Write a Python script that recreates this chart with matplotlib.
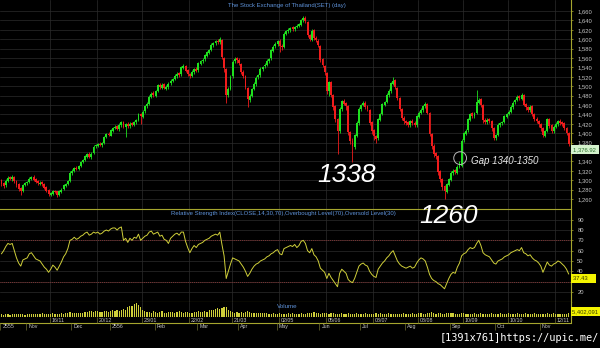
# -*- coding: utf-8 -*-
#
# SET index (day) candles + RSI(14) + volume, dark terminal style
#

import matplotlib
matplotlib.use("Agg")
import matplotlib.pyplot as plt
import matplotlib.transforms as mtransforms
import numpy as np
from matplotlib.ticker import FuncFormatter

#======================================================================
### data (one row = 10 trading days)
#======================================================================
open_ = [
    1300, 1293, 1289, 1299, 1306, 1302, 1306, 1299, 1291, 1283,
    1277, 1290, 1293, 1296, 1302, 1307, 1302, 1298, 1292, 1296,
    1291, 1285, 1279, 1269, 1271, 1278, 1276, 1269, 1275, 1281,
    1288, 1292, 1299, 1315, 1319, 1327, 1323, 1331, 1339, 1343,
    1350, 1356, 1349, 1357, 1372, 1373, 1378, 1374, 1380, 1391,
    1399, 1395, 1405, 1411, 1415, 1408, 1417, 1424, 1413, 1420,
    1415, 1421, 1417, 1423, 1429, 1441, 1435, 1447, 1457, 1463,
    1477, 1485, 1480, 1490, 1503, 1497, 1504, 1495, 1498, 1506,
    1511, 1516, 1521, 1528, 1525, 1539, 1544, 1534, 1527, 1521,
    1530, 1537, 1534, 1548, 1554, 1557, 1565, 1571, 1577, 1587,
    1591, 1597, 1593, 1598, 1560, 1536, 1481, 1495, 1521, 1553,
    1559, 1556, 1548, 1531, 1521, 1497, 1471, 1479, 1495, 1504,
    1519, 1523, 1536, 1542, 1545, 1553, 1559, 1575, 1585, 1589,
    1597, 1586, 1584, 1611, 1618, 1619, 1625, 1621, 1627, 1628,
    1631, 1640, 1646, 1637, 1609, 1599, 1619, 1603, 1597, 1586,
    1557, 1544, 1529, 1489, 1509, 1481, 1457, 1431, 1404, 1451,
    1469, 1464, 1457, 1403, 1384, 1371, 1395, 1421, 1451, 1461,
    1465, 1457, 1450, 1423, 1406, 1395, 1389, 1429, 1441, 1461,
    1467, 1481, 1489, 1505, 1513, 1497, 1475, 1451, 1433, 1426,
    1423, 1417, 1427, 1422, 1417, 1435, 1443, 1449, 1457, 1463,
    1443, 1399, 1373, 1357, 1351, 1319, 1303, 1287, 1275, 1290,
    1301, 1315, 1321, 1316, 1328, 1330, 1385, 1399, 1406, 1429,
    1442, 1436, 1444, 1465, 1472, 1461, 1429, 1423, 1430, 1427,
    1411, 1389, 1397, 1417, 1422, 1424, 1435, 1441, 1445, 1455,
    1466, 1471, 1479, 1473, 1482, 1462, 1456, 1449, 1457, 1441,
    1431, 1425, 1420, 1411, 1395, 1405, 1431, 1417, 1404, 1413,
    1419, 1427, 1423, 1421, 1412, 1401,
]
high = [
    1303, 1296, 1302, 1309, 1309, 1310, 1308, 1301, 1293, 1285,
    1292, 1297, 1299, 1306, 1309, 1310, 1304, 1300, 1298, 1298,
    1293, 1287, 1281, 1275, 1280, 1280, 1278, 1279, 1283, 1292,
    1295, 1301, 1319, 1323, 1329, 1330, 1333, 1341, 1345, 1354,
    1358, 1359, 1359, 1374, 1377, 1380, 1381, 1382, 1395, 1401,
    1402, 1409, 1413, 1417, 1418, 1421, 1426, 1427, 1422, 1423,
    1423, 1424, 1427, 1431, 1443, 1444, 1449, 1461, 1466, 1481,
    1487, 1489, 1492, 1505, 1507, 1506, 1507, 1502, 1508, 1515,
    1518, 1525, 1530, 1531, 1543, 1547, 1546, 1536, 1529, 1534,
    1539, 1540, 1552, 1556, 1559, 1569, 1575, 1579, 1591, 1595,
    1599, 1600, 1604, 1601, 1562, 1538, 1498, 1523, 1555, 1562,
    1562, 1559, 1550, 1534, 1523, 1499, 1484, 1497, 1508, 1521,
    1527, 1540, 1544, 1549, 1557, 1561, 1579, 1587, 1593, 1599,
    1600, 1589, 1615, 1620, 1623, 1627, 1628, 1629, 1632, 1635,
    1644, 1650, 1649, 1639, 1612, 1621, 1621, 1606, 1600, 1588,
    1560, 1546, 1531, 1512, 1511, 1483, 1459, 1433, 1456, 1471,
    1472, 1467, 1459, 1405, 1389, 1399, 1425, 1455, 1463, 1468,
    1468, 1460, 1452, 1425, 1408, 1397, 1433, 1443, 1465, 1469,
    1485, 1493, 1509, 1520, 1515, 1499, 1477, 1453, 1436, 1429,
    1426, 1429, 1430, 1425, 1439, 1447, 1453, 1461, 1466, 1465,
    1445, 1401, 1376, 1360, 1353, 1321, 1305, 1289, 1294, 1305,
    1319, 1323, 1324, 1332, 1341, 1387, 1403, 1408, 1433, 1444,
    1445, 1446, 1492, 1475, 1475, 1463, 1432, 1432, 1433, 1429,
    1413, 1399, 1421, 1424, 1426, 1439, 1443, 1449, 1459, 1468,
    1473, 1481, 1482, 1486, 1484, 1464, 1458, 1459, 1459, 1443,
    1434, 1428, 1422, 1413, 1407, 1433, 1433, 1419, 1417, 1423,
    1429, 1430, 1426, 1423, 1414, 1403,
]
low = [
    1287, 1284, 1286, 1297, 1300, 1299, 1295, 1286, 1278, 1268,
    1274, 1287, 1290, 1294, 1300, 1298, 1294, 1290, 1289, 1288,
    1281, 1274, 1266, 1266, 1269, 1272, 1265, 1267, 1273, 1279,
    1286, 1290, 1297, 1312, 1317, 1321, 1321, 1329, 1336, 1341,
    1348, 1347, 1346, 1355, 1369, 1370, 1372, 1371, 1378, 1389,
    1393, 1393, 1403, 1408, 1406, 1405, 1414, 1410, 1392, 1412,
    1412, 1415, 1415, 1420, 1427, 1420, 1433, 1444, 1454, 1460,
    1474, 1477, 1477, 1487, 1495, 1494, 1493, 1491, 1495, 1503,
    1508, 1513, 1518, 1520, 1522, 1536, 1530, 1522, 1518, 1519,
    1527, 1530, 1531, 1545, 1550, 1554, 1562, 1568, 1574, 1584,
    1588, 1590, 1590, 1558, 1530, 1465, 1476, 1492, 1518, 1549,
    1550, 1545, 1526, 1517, 1494, 1456, 1466, 1476, 1492, 1501,
    1516, 1520, 1533, 1538, 1542, 1550, 1556, 1572, 1582, 1586,
    1573, 1578, 1582, 1608, 1614, 1616, 1618, 1618, 1623, 1625,
    1628, 1637, 1634, 1604, 1596, 1596, 1598, 1594, 1583, 1552,
    1540, 1524, 1484, 1480, 1476, 1450, 1424, 1355, 1400, 1448,
    1459, 1450, 1396, 1376, 1338, 1366, 1391, 1418, 1447, 1457,
    1452, 1447, 1418, 1399, 1386, 1380, 1386, 1426, 1438, 1458,
    1464, 1478, 1486, 1502, 1494, 1470, 1448, 1428, 1420, 1417,
    1413, 1414, 1417, 1413, 1414, 1432, 1440, 1446, 1454, 1440,
    1394, 1366, 1350, 1346, 1312, 1296, 1279, 1260, 1272, 1287,
    1298, 1312, 1313, 1313, 1325, 1328, 1382, 1396, 1403, 1426,
    1433, 1433, 1441, 1462, 1456, 1422, 1419, 1419, 1421, 1405,
    1385, 1385, 1394, 1413, 1418, 1421, 1432, 1438, 1442, 1452,
    1463, 1468, 1470, 1470, 1457, 1450, 1446, 1446, 1436, 1425,
    1421, 1414, 1405, 1391, 1391, 1402, 1411, 1401, 1401, 1410,
    1416, 1418, 1416, 1407, 1396, 1372,
]
close = [
    1291, 1288, 1299, 1305, 1303, 1306, 1298, 1290, 1282, 1276,
    1289, 1294, 1296, 1303, 1306, 1301, 1297, 1293, 1295, 1291,
    1284, 1278, 1270, 1272, 1277, 1275, 1269, 1276, 1280, 1289,
    1292, 1298, 1316, 1320, 1326, 1324, 1330, 1338, 1342, 1351,
    1355, 1350, 1356, 1371, 1374, 1377, 1375, 1379, 1392, 1398,
    1396, 1406, 1410, 1414, 1409, 1418, 1423, 1414, 1419, 1416,
    1420, 1418, 1424, 1428, 1440, 1436, 1446, 1458, 1462, 1478,
    1484, 1481, 1489, 1502, 1498, 1503, 1496, 1499, 1505, 1512,
    1515, 1522, 1527, 1524, 1540, 1543, 1533, 1526, 1522, 1531,
    1536, 1533, 1549, 1553, 1556, 1566, 1572, 1576, 1588, 1592,
    1596, 1594, 1600, 1562, 1538, 1482, 1494, 1520, 1552, 1558,
    1555, 1549, 1530, 1522, 1498, 1472, 1480, 1494, 1505, 1518,
    1524, 1537, 1541, 1546, 1554, 1558, 1576, 1584, 1590, 1596,
    1585, 1583, 1612, 1617, 1620, 1624, 1622, 1626, 1629, 1632,
    1641, 1645, 1638, 1608, 1600, 1618, 1602, 1598, 1587, 1556,
    1545, 1530, 1490, 1508, 1482, 1456, 1430, 1405, 1452, 1468,
    1463, 1458, 1402, 1383, 1372, 1396, 1422, 1452, 1460, 1464,
    1456, 1451, 1422, 1405, 1394, 1388, 1430, 1440, 1462, 1466,
    1482, 1490, 1506, 1512, 1498, 1474, 1452, 1432, 1425, 1422,
    1418, 1426, 1421, 1418, 1436, 1444, 1450, 1458, 1462, 1444,
    1398, 1372, 1356, 1352, 1318, 1302, 1286, 1276, 1291, 1302,
    1316, 1320, 1317, 1329, 1338, 1384, 1400, 1405, 1430, 1441,
    1437, 1443, 1466, 1471, 1460, 1428, 1424, 1429, 1426, 1410,
    1390, 1396, 1418, 1421, 1423, 1436, 1440, 1446, 1456, 1465,
    1470, 1478, 1474, 1481, 1461, 1455, 1450, 1456, 1440, 1430,
    1426, 1419, 1410, 1396, 1404, 1430, 1416, 1405, 1414, 1420,
    1426, 1422, 1420, 1411, 1400, 1376.92,
]
rsi = [
    57, 60, 64, 67, 66, 67, 60, 53, 48, 45,
    51, 52, 53, 57, 58, 55, 52, 51, 50, 47,
    44, 42, 39, 42, 46, 44, 41, 45, 49, 54,
    57, 62, 70, 71, 73, 71, 72, 74, 75, 77,
    78, 75, 76, 78, 77, 78, 76, 77, 79, 80,
    79, 81, 82, 82, 80, 82, 83, 70, 72, 68,
    72, 70, 73, 72, 76, 70, 72, 74, 75, 78,
    79, 76, 77, 78, 74, 75, 71, 70, 67, 72,
    74, 76, 77, 75, 78, 78, 69, 63, 58, 62,
    65, 63, 66, 67, 68, 70, 71, 72, 74, 75,
    76, 75, 78, 66, 55, 33, 40, 47, 53, 52,
    51, 50, 47, 44, 40, 35, 38, 42, 45, 47,
    48, 50, 51, 52, 54, 55, 57, 58, 60, 61,
    57, 56, 62, 63, 64, 65, 64, 66, 63, 65,
    69, 70, 67, 60, 58, 62, 56, 54, 50, 43,
    41, 39, 33, 38, 34, 31, 28, 25, 38, 42,
    40, 38, 32, 30, 29, 33, 39, 45, 47, 48,
    46, 45, 40, 37, 35, 34, 42, 45, 48, 50,
    53, 55, 58, 60, 55, 50, 47, 45, 44, 43,
    44, 45, 43, 44, 48, 51, 53, 52, 50, 44,
    37, 33, 31, 30, 28, 27, 25, 23, 28, 33,
    37, 39, 38, 44, 48, 55, 57, 58, 61, 63,
    62, 63, 67, 70, 65, 58, 56, 55, 54, 51,
    48, 47, 50, 51, 52, 54, 55, 56, 58, 59,
    60, 61, 60, 63, 58, 57, 55, 56, 53, 51,
    50, 48, 45, 39, 44, 49, 46, 45, 47, 48,
    50, 49, 47, 45, 42, 37.43,
]
volume = [
    28, 24, 30, 26, 22, 27, 31, 25, 29, 33,
    27, 24, 26, 30, 28, 25, 30, 27, 32, 35,
    29, 31, 26, 34, 38, 30, 28, 33, 36, 31,
    40, 42, 45, 38, 36, 41, 39, 44, 37, 52,
    48, 55, 60, 50, 58, 62, 54, 49, 57, 63,
    51, 60, 66, 58, 72, 64, 70, 78, 68, 95,
    112, 104, 128, 135, 118, 100, 72, 58, 48, 52,
    44, 56, 50, 41, 47, 55, 43, 39, 46, 52,
    45, 40, 50, 57, 48, 42, 53, 46, 38, 44,
    51, 47, 55, 49, 54, 60, 52, 66, 72, 70,
    78, 84, 80, 90, 96, 102, 70, 56, 48, 44,
    50, 42, 46, 38, 52, 58, 45, 40, 36, 42,
    39, 35, 44, 38, 41, 34, 30, 36, 28, 32,
    38, 29, 33, 27, 35, 31, 40, 30, 26, 34,
    37, 29, 32, 36, 42, 38, 45, 40, 36, 33,
    39, 44, 35, 30, 41, 37, 32, 28, 34, 38,
    31, 29, 36, 33, 27, 30, 35, 32, 28, 34,
    39, 31, 26, 33, 30, 37, 29, 35, 32, 28,
    31, 36, 30, 27, 33, 29, 34, 32, 36, 30,
    28, 34, 38, 31, 29, 35, 40, 33, 30, 37,
    42, 46, 38, 34, 41, 36, 32, 30, 35, 39,
    44, 37, 33, 29, 31, 36, 40, 34, 30, 28,
    33, 37, 31, 29, 35, 32, 27, 30, 34, 38,
    31, 28, 33, 36, 30, 26, 32, 35, 29, 31,
    34, 37, 30, 28, 33, 36, 29, 27, 32, 35,
    31, 28, 34, 30, 33, 36, 29, 31, 35, 28,
    32, 30, 34, 29, 33, 36,
]

# date axis (bar index where each label starts)
day_ticks = [23, 45, 66, 88, 108, 130, 152, 174, 195, 216, 237, 259]
day_labels = ["16/11", "20/12", "23/01", "22/02", "21/03", "02/05",
              "05/06", "08/07", "08/08", "10/09", "10/10", "12/11"]
month_ticks = [0, 12, 33, 51, 72, 92, 111, 129, 149, 168, 189, 210, 231, 252]
month_labels = ["2555", "Nov", "Dec", "2556", "Feb", "Mar", "Apr", "May",
                "Jun", "Jul", "Aug", "Sep", "Oct", "Nov"]

price_ticks = list(range(1260, 1661, 20))
rsi_ticks = [20, 30, 40, 50, 60, 70, 80, 90]
last_volume_label = "5,402,091"

#======================================================================
### style
#======================================================================
BG = "black"
OLIVE = "#a6a62e"
GRID = "#2c2c2c"
UP = "#1fe01f"
DOWN = "#f01c1c"
LBL = "#c4c4c4"
BLUE = "#5f93da"
YEL = "#cfcf3a"

plt.rcParams["font.family"] = ["Liberation Sans", "DejaVu Sans"]

W, H = 600, 348
AX_RIGHT = 571


def fx(p):
    return p / W


def fy(p):
    return 1 - p / H


fig = plt.figure(figsize=(W / 100, H / 100), dpi=100, facecolor=BG)


def panel(top, bottom):
    a = fig.add_axes([0, fy(bottom), AX_RIGHT / W, (bottom - top) / H])
    a.set_facecolor(BG)
    for s in a.spines.values():
        s.set_visible(False)
    return a


ax = panel(0, 209)
ax_rsi = panel(209, 302)
ax_vol = panel(302, 317)
ax_dt = panel(317, 331)

n = len(close)
x = np.arange(n)
xlim = (-0.7, n + 0.1)
grid_x = np.array(day_ticks) - 0.5

for a in (ax, ax_rsi, ax_vol, ax_dt):
    a.set_xlim(*xlim)
    a.set_xticks(grid_x)
    a.tick_params(axis="x", length=0, labelbottom=False)
    a.spines["right"].set_visible(True)
    a.spines["right"].set_color(OLIVE)
    a.spines["right"].set_linewidth(0.8)


# the last-value marker box sits just under its value and hides the label there
def covered_fmt(last, span, fmt):
    def f(v, p):
        if last - span < v < last:
            return ""
        return fmt.format(v)
    return FuncFormatter(f)


def last_box(a, value, label, fc, tc, drop):
    tr = mtransforms.offset_copy(a.get_yaxis_transform(), fig=fig, y=-drop, units="dots")
    a.text(1.003, value, label, transform=tr, ha="left", va="top", fontsize=4.2,
           color=tc, clip_on=False, zorder=6,
           bbox=dict(boxstyle="square,pad=0.3", fc=fc, ec="none"))


#======================================================================
### price panel
#======================================================================
o = np.array(open_)
c = np.array(close)
col = np.where(c >= o, UP, DOWN)
ax.vlines(x, low, high, colors=col, lw=0.6, zorder=3)
ax.bar(x, np.maximum(np.abs(c - o), 1.3), bottom=np.minimum(o, c),
       width=0.9, color=col, linewidth=0, zorder=4)

ax.set_ylim(1238.7, 1683.4)
ax.yaxis.tick_right()
ax.set_yticks(price_ticks)
ax.yaxis.set_major_formatter(covered_fmt(close[-1], 20, "{:,.0f}"))
ax.tick_params(axis="y", labelsize=4.2, labelcolor=LBL, color=OLIVE,
               length=1.5, width=0.5, pad=3)
ax.grid(True, color=GRID, lw=0.5)
ax.set_axisbelow(True)

last_box(ax, close[-1], f"{close[-1]:,.2f} ", "#d4f2cc", "#2b6e2b", 3)

fig.text(fx(287), fy(6), "The Stock Exchange of Thailand(SET) (day)",
         ha="center", va="center", fontsize=4.3, color=BLUE)

# hand annotations
fig.text(fx(347), fy(175), "1338", ha="center", va="center",
         fontsize=19, style="italic", color="white")
fig.text(fx(449), fy(216), "1260", ha="center", va="center",
         fontsize=19, style="italic", color="white", zorder=10)
fig.text(fx(471), fy(161.5), "Gap 1340-1350", ha="left", va="center",
         fontsize=7, style="italic", color="#e8e8e8")
ax.scatter([214.3], [1347], s=85, facecolors="none", edgecolors="#b8b8b8",
           linewidths=0.7, zorder=7)

#======================================================================
### RSI panel
#======================================================================
ax_rsi.plot(x, rsi, color=YEL, lw=0.7, zorder=4)
ax_rsi.set_ylim(10.2, 100.4)
ax_rsi.yaxis.tick_right()
ax_rsi.set_yticks(rsi_ticks)
ax_rsi.yaxis.set_major_formatter(covered_fmt(rsi[-1], 10, "{:.0f}"))
ax_rsi.tick_params(axis="y", labelsize=4.2, labelcolor=LBL, color=OLIVE,
                   length=1.5, width=0.5, pad=3)
ax_rsi.grid(True, color=GRID, lw=0.5)
ax_rsi.set_axisbelow(True)
for lvl in (30, 70):
    ax_rsi.axhline(lvl, color="#9c3a3a", lw=0.6, ls=(0, (1, 1.3)), zorder=3)
for side in ("top", "bottom"):
    ax_rsi.spines[side].set_visible(True)
    ax_rsi.spines[side].set_color(OLIVE)
    ax_rsi.spines[side].set_linewidth(0.8)

last_box(ax_rsi, rsi[-1], f"{rsi[-1]:.2f}    ", "#f4f400", "#3a3a00", 2)

fig.text(fx(171), fy(214),
         "Relative Strength Index(CLOSE,14,30,70),Overbought Level(70),Oversold Level(30)",
         ha="left", va="center", fontsize=4.3, color=BLUE)

#======================================================================
### volume panel
#======================================================================
ax_vol.bar(x, volume, width=0.55, color=YEL, linewidth=0)
ax_vol.set_ylim(0, 148)
ax_vol.set_yticks([])
ax_vol.grid(True, axis="x", color=GRID, lw=0.5)
ax_vol.set_axisbelow(True)
ax_vol.spines["bottom"].set_visible(True)
ax_vol.spines["bottom"].set_color(OLIVE)
ax_vol.spines["bottom"].set_linewidth(0.8)
fig.text(fx(287), fy(307), "Volume", ha="center", va="center",
         fontsize=4.5, color=BLUE)
fig.text(fx(572.5), fy(311.5), last_volume_label + " ", ha="left", va="center",
         fontsize=4.2, color="#3a3a00",
         bbox=dict(boxstyle="square,pad=0.3", fc="#f4f400", ec="none"))

#======================================================================
### date rows
#======================================================================
ax_dt.set_ylim(0, 14)
ax_dt.set_yticks([])
ax_dt.spines["right"].set_bounds(8, 14)
ax_dt.axhline(8, color=OLIVE, lw=0.8)
ax_dt.vlines(grid_x, 8, 14, color="#6e6e30", lw=0.5)
for t, s in zip(day_ticks, day_labels):
    ax_dt.text(t + 0.3, 11, s, ha="left", va="center", fontsize=3.8, color=LBL)
ax_dt.vlines(np.array(month_ticks) - 0.5, 1.5, 8, color="#6e6e30", lw=0.5)
for t, s in zip(month_ticks, month_labels):
    ax_dt.text(t + 0.5, 4.2, s, ha="left", va="center", fontsize=3.8, color=LBL)

# upload watermark
fig.text(fx(440), fy(338), "[1391x761]https://upic.me/", ha="left", va="center",
         fontsize=7.4, color="white", family="DejaVu Sans Mono")

fig.savefig("out.png", dpi=100, facecolor=BG)
